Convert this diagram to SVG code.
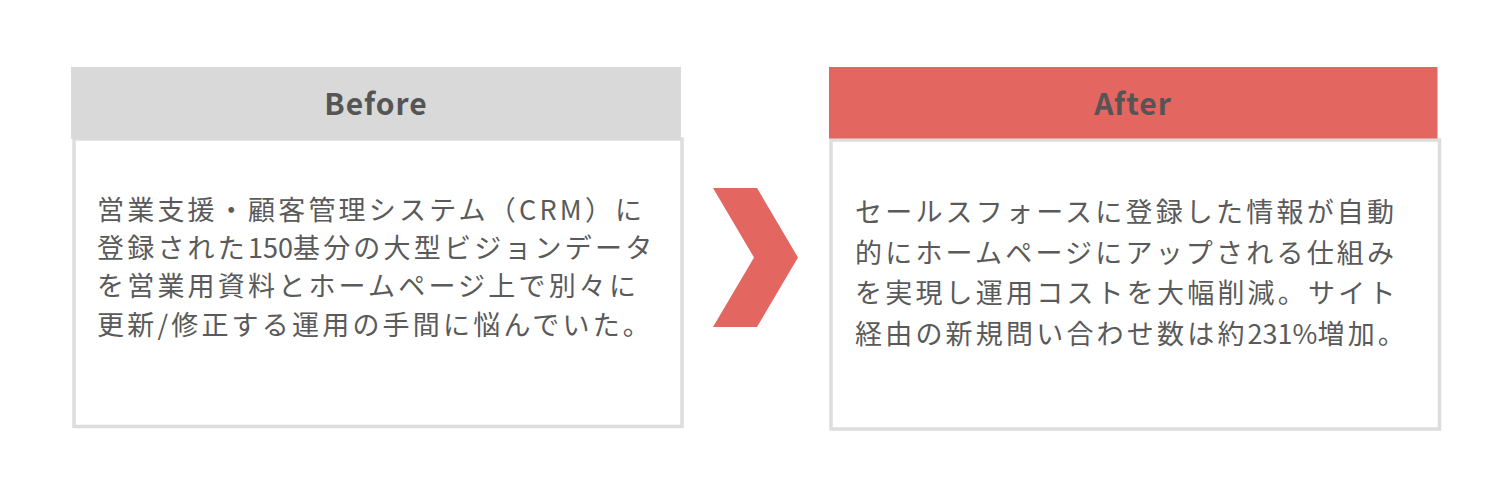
<svg xmlns="http://www.w3.org/2000/svg" width="1500" height="500" viewBox="0 0 1500 500">
  <style>
    .hdr-gray { fill: #d9d9d9; }
    .hdr-red { fill: #e36661; }
    .body { fill: #ffffff; stroke: #dddddd; stroke-width: 3.5; }
    .title { font-family: "Noto Sans CJK JP", "Noto Sans", sans-serif; font-size: 30px; font-weight: 700; fill: #555555; letter-spacing: 1px; text-anchor: middle; }
    .txt { font-family: "Noto Sans CJK JP", "Noto Sans", sans-serif; font-size: 27px; font-weight: 400; fill: #5a5a5a; letter-spacing: 3.2px; }
    .num { letter-spacing: 0px; }
    .arrow { fill: #e36661; }
  </style>
  <rect width="1500" height="500" fill="#ffffff"/>

  <g id="before">
    <rect class="body" x="74" y="139" width="608" height="287.5"/>
    <rect class="hdr-gray" x="71" y="67" width="610" height="72"/>
    <text class="title" x="376" y="115">Before</text>
    <text class="txt" x="97" y="220">営業支援・顧客管理システム（CRM）に</text>
    <text class="txt" x="97" y="258">登録された<tspan class="num">150</tspan>基分の大型ビジョンデータ</text>
    <text class="txt" x="97" y="296">を営業用資料とホームページ上で別々に</text>
    <text class="txt" x="97" y="335">更新/修正する運用の手間に悩んでいた。</text>
  </g>

  <g id="connectors">
    <polygon class="arrow" points="713,188 757,188 798,257.5 757,327 713,327 754,257.5"/>
  </g>

  <g id="after">
    <rect class="body" x="831" y="140" width="608.5" height="289"/>
    <rect class="hdr-red" x="829" y="67" width="608.5" height="71.5"/>
    <text class="title" x="1133" y="115">After</text>
    <text class="txt" x="855" y="222">セールスフォースに登録した情報が自動</text>
    <text class="txt" x="855" y="263">的にホームページにアップされる仕組み</text>
    <text class="txt" x="855" y="303">を実現し運用コストを大幅削減。サイト</text>
    <text class="txt" x="855" y="344">経由の新規問い合わせ数は約<tspan class="num">231%</tspan>増加。</text>
  </g>
</svg>
